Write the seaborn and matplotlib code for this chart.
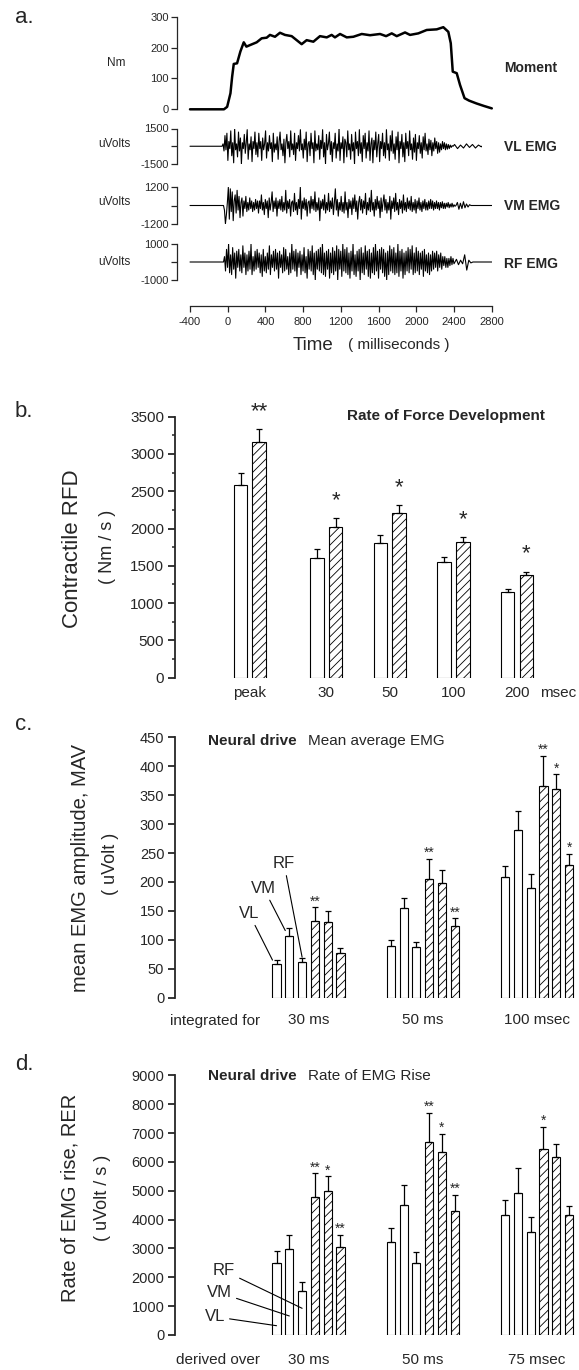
import numpy as np
import pandas as pd
import matplotlib
matplotlib.use("Agg")
import matplotlib.pyplot as plt
import seaborn as sns

# ------------------------------------------------------------------ data
# a. moment trace (ms, Nm)
moment_t = [-400, -40, -6, 29, 47, 64, 99, 134, 170, 198, 236, 307, 360, 413, 448, 501,
            554, 607, 678, 731, 784, 837, 908, 978, 1050, 1102, 1137, 1191, 1262, 1332,
            1421, 1509, 1615, 1679, 1739, 1792, 1880, 1933, 2021, 2110, 2216, 2286, 2339,
            2365, 2386, 2428, 2463, 2511, 2560, 2637, 2715, 2800]
moment_nm = [0, 0, 8, 52, 106, 147, 149, 187, 217, 203, 208, 217, 230, 232, 241, 235,
             248, 241, 237, 224, 211, 224, 219, 237, 233, 241, 233, 244, 233, 235,
             244, 240, 244, 237, 246, 237, 249, 241, 246, 257, 259, 266, 251,
             214, 122, 117, 79, 36, 28, 19, 11, 3]

# a. EMG traces (uV): burst samples, small tail samples, and their time spans (ms)
VL_EMG = [0, 200, -400, 900, -300, 1100, -1200, 400, -200, 1300, -800, 300,
          -1400, 1500, -300, 200, -900, 1200, -400, 700, -1500, 300, -200, 1000,
          -600, 300, 1400, -1100, 200, -300, 800, -1300, 400, -200, 1200, -700,
          300, -900, 1100, -200, 400, -1200, 700, -300, 200, 1300, -1000, 300,
          -400, 900, -200, 300, -1300, 1100, -500, 200, -300, 800, -1100, 400,
          1200, -300, 200, -800, 600, -1400, 300, 1000, -200, 400, -900, 1300,
          -300, 200, -700, 1100, -1200, 300, -200, 900, -400, 1400, -300, 200,
          -1000, 600, -300, 1200, -1300, 200, 400, -800, 1100, -200, 300, -1400,
          1300, -400, 200, -300, 900, -1100, 500, -200, 1400, -900, 300, -1500,
          1000, -300, 200, 1200, -700, 400, -1300, 300, -200, 1100, -1000, 200,
          -400, 1500, -1200, 300, -200, 800, -1400, 600, 300, -900, 1300, -300,
          200, -1100, 1000, -400, 300, -1500, 1200, -200, 400, -800, 1400, -600,
          300, -1300, 900, -200, 1100, -1000, 300, -400, 1300, -1200, 200, 700,
          -1400, 500, -300, 1200, -900, 200, 1000, -1300, 400, -200, 1100, -800,
          300, -1000, 1400, -300, 200, -1200, 900, -400, 1300, -600, 200, -1100,
          800, -300, 1200, -1400, 400, -200, 1000, -900, 300, -1300, 1100, -200,
          400, -800, 1300, -300, 200, -1100, 700, -500, 1000, -1200, 300, -200,
          900, -600, 300, -1000, 800, -300, 1100, -400, 200, -700, 600, -300,
          500, -800, 300, -400, 700, -200, 400, -600, 300, -500, 200, -300,
          400, -200, 300, -300, 200, -250, 150, -200, 100, -100, 50, 0]
VL_TAIL = [150, -200, 100, -150, 200, -100, 150, -150, 100, -50]
VL_SPAN = [-60, 2390, 2405, 2690, 2690]

VM_EMG = [0, -300, -1200, -600, 200, 1200, -900, 1100, -400, 900, -1000, 300,
          700, -500, 1000, -300, 600, -800, 200, 500, -700, 300, -200, 600,
          -400, 200, -300, 500, -200, 300, -400, 200, -300, 400, -200, 300,
          -500, 300, -200, 700, -300, 200, -600, 400, -200, 300, -800, 500,
          -300, 200, 900, -400, 300, -200, 500, -700, 300, -200, 400, -300,
          600, -400, 200, -300, 1000, -500, 300, -200, 400, -700, 200, 300,
          -400, 800, -300, 200, -600, 400, -200, 1200, -900, 300, -200, 500,
          -300, 400, -700, 200, 300, -500, 600, -200, 400, -300, 900, -400,
          200, -300, 500, -1000, 300, -200, 400, -300, 700, -500, 200, -300,
          800, -400, 300, -200, 500, -600, 200, 1100, -300, 400, -700, 200,
          -300, 600, -400, 200, -500, 900, -300, 200, -800, 400, -200, 300,
          -600, 500, -200, 700, -400, 300, -900, 200, 600, -300, 400, -500,
          300, -200, 800, -600, 200, -300, 500, -400, 1000, -300, 200, -700,
          400, -300, 600, -200, 300, -800, 500, -400, 200, 700, -300, 400,
          -500, 200, -300, 600, -900, 300, -200, 500, -400, 800, -300, 200,
          -600, 400, -200, 300, -500, 700, -300, 200, -400, 500, -200, 300,
          -300, 600, -400, 200, -300, 400, -500, 300, -200, 500, -300, 200,
          -400, 300, -200, 400, -300, 200, -300, 300, -200, 400, -200, 300,
          -300, 200, -200, 300, -200, 200, -300, 200, -150, 250, -200, 150,
          -200, 150, -100, 200, -150, 100, -100, 150, -100, 50, -50, 0]
VM_TAIL = [200, -250, 150, -200, 250, -150, 100, -100, 50, 0]
VM_SPAN = [-45, 2420, 2435, 2580, 2800]

RF_EMG = [0, 300, -500, 700, -300, 1000, -600, 400, -700, 800, -400, 500,
          -900, 600, -300, 700, -500, 400, -600, 900, -300, 500, -700, 400,
          -500, 600, -400, 1000, -700, 300, -500, 600, -400, 700, -300, 500,
          -600, 400, -800, 700, -500, 300, -600, 500, -400, 900, -700, 400,
          -300, 600, -500, 700, -400, 500, -900, 600, -300, 400, -600, 800,
          -500, 700, -400, 300, -700, 500, -600, 1000, -400, 600, -500, 700,
          -800, 500, -300, 600, -700, 400, -500, 800, -600, 300, -900, 700,
          -400, 600, -500, 900, -700, 500, -1000, 600, -400, 700, -500, 800,
          -600, 1000, -700, 500, -800, 600, -400, 700, -900, 500, -600, 800,
          -700, 600, -500, 900, -1000, 700, -400, 600, -800, 1000, -500, 700,
          -600, 800, -700, 500, -900, 600, -500, 1000, -700, 400, -800, 600,
          -500, 700, -1000, 800, -600, 500, -700, 900, -400, 600, -800, 700,
          -900, 500, -600, 800, -700, 1000, -500, 600, -900, 700, -400, 800,
          -600, 700, -800, 500, -1000, 600, -700, 900, -500, 700, -600, 800,
          -700, 500, -600, 1000, -800, 600, -500, 700, -900, 500, -700, 600,
          -500, 800, -600, 700, -400, 900, -700, 500, -600, 800, -500, 600,
          -700, 500, -400, 600, -800, 700, -500, 400, -600, 500, -700, 400,
          -500, 600, -400, 500, -300, 600, -500, 400, -300, 500, -400, 300,
          -200, 300, -300, 200, -300, 200, -200, 300, -150, 200, -100, 0]
RF_TAIL = [150, -150, 100, -100, 400, -450, 100, -50, 0]
RF_SPAN = [-45, 2410, 2425, 2600, 2800]

time_ticks = [-400, 0, 400, 800, 1200, 1600, 2000, 2400, 2800]

# b. contractile RFD (Nm/s)
rfd_groups = ["peak", "30", "50", "100", "200"]
rfd_pre = [2580, 1600, 1800, 1550, 1145]
rfd_pre_err = [170, 120, 120, 75, 48]
rfd_post = [3155, 2020, 2205, 1815, 1375]
rfd_post_err = [175, 120, 110, 68, 47]
rfd_stars = ["**", "*", "*", "*", "*"]

# c. MAV (uVolt)
mav_windows = ["30 ms", "50 ms", "100 msec"]
mav_vl_pre = [58, 89, 208]
mav_vm_pre = [107, 155, 289]
mav_rf_pre = [62, 87, 190]
mav_vl_post = [132, 205, 366]
mav_vm_post = [131, 199, 361]
mav_rf_post = [77, 124, 230]
mav_vl_pre_err = [8, 11, 20]
mav_vm_pre_err = [13, 17, 33]
mav_rf_pre_err = [6, 10, 23]
mav_vl_post_err = [24, 35, 52]
mav_vm_post_err = [18, 21, 25]
mav_rf_post_err = [9, 13, 19]
mav_stars_vl_post = ["**", "**", "**"]
mav_stars_vm_post = ["", "", "*"]
mav_stars_rf_post = ["", "**", "*"]

# d. RER (uVolt/s)
rer_windows = ["30 ms", "50 ms", "75 msec"]
rer_vl_pre = [2495, 3234, 4170]
rer_vm_pre = [2970, 4495, 4911]
rer_rf_pre = [1536, 2506, 3560]
rer_vl_post = [4794, 6679, 6447]
rer_vm_post = [4980, 6332, 6159]
rer_rf_post = [3040, 4298, 4159]
rer_vl_pre_err = [415, 485, 520]
rer_vm_pre_err = [485, 715, 890]
rer_rf_pre_err = [290, 370, 540]
rer_vl_post_err = [810, 1005, 765]
rer_vm_post_err = [520, 625, 460]
rer_rf_post_err = [437, 545, 312]
rer_stars_vl_post = ["**", "**", "*"]
rer_stars_vm_post = ["*", "*", ""]
rer_stars_rf_post = ["**", "**", ""]

muscles = ["VL", "VM", "RF"]

# ------------------------------------------------------------------ style
sns.set_theme(style="ticks")
plt.rcParams["font.family"] = ["Liberation Sans", "DejaVu Sans"]
plt.rcParams["hatch.linewidth"] = 0.6
plt.rcParams["hatch.color"] = "black"

W, H = 579, 1370
fig = plt.figure(figsize=(W / 100, H / 100), dpi=100)


def rect(l, t, r, b):
    return [l / W, 1 - b / H, (r - l) / W, (b - t) / H]


def fx(px):
    return px / W


def fy(py):
    return 1 - py / H


# ------------------------------------------------------------------ panel a
PX_MS = (491.8 - 190.0) / 3200.0
A_LEFT = 177.0
t_left = -400 - (190.0 - A_LEFT) / PX_MS


def trace_axes(top, bottom):
    ax = fig.add_axes(rect(A_LEFT, top, 491.8, bottom))
    ax.set_xlim(t_left, 2800)
    for s in ["top", "right", "bottom"]:
        ax.spines[s].set_visible(False)
    ax.spines["left"].set_linewidth(0.9)
    ax.set_xticks([])
    ax.tick_params(axis="y", direction="out", length=4, width=0.9, labelsize=8, pad=2)
    ax.patch.set_alpha(0)
    return ax


ax_m = trace_axes(16.7, 109.3)
sns.lineplot(x=moment_t, y=moment_nm, color="black", linewidth=1.8, estimator=None,
             sort=False, ax=ax_m)
ax_m.set_ylim(0, 300)
ax_m.set_yticks([0, 100, 200, 300])
ax_m.set_xlim(t_left, 2800)
ax_m.set_xlabel("")
ax_m.set_ylabel("")
for ln in ax_m.lines:
    ln.set_clip_on(False)


def emg_trace(ax, vals, tail, span, lim):
    t = np.concatenate([[-400.0], np.linspace(span[0], span[1], len(vals)),
                        np.linspace(span[2], span[3], len(tail)), [span[4]]])
    v = np.concatenate([[0.0], vals, tail, [0.0]])
    sns.lineplot(x=t, y=v, color="black", linewidth=0.8, estimator=None, sort=False, ax=ax)
    ax.set_ylim(-lim, lim)
    ax.set_yticks([-lim, 0, lim])
    ax.set_yticklabels([str(-lim), "", str(lim)])
    ax.set_xlim(t_left, 2800)
    ax.set_xlabel("")
    ax.set_ylabel("")


ax_vl = trace_axes(128.5, 164.0)
emg_trace(ax_vl, VL_EMG, VL_TAIL, VL_SPAN, 1500)
ax_vm = trace_axes(187.3, 223.7)
emg_trace(ax_vm, VM_EMG, VM_TAIL, VM_SPAN, 1200)
ax_rf = trace_axes(244.0, 280.0)
emg_trace(ax_rf, RF_EMG, RF_TAIL, RF_SPAN, 1000)

ax_t = fig.add_axes(rect(190.0, 290, 491.8, 306))
ax_t.set_xlim(-400, 2800)
ax_t.set_xticks(time_ticks)
ax_t.set_xticklabels([str(v) for v in time_ticks])
ax_t.set_yticks([])
for s in ["top", "right", "left"]:
    ax_t.spines[s].set_visible(False)
ax_t.spines["bottom"].set_linewidth(0.9)
ax_t.tick_params(axis="x", direction="out", length=4, width=0.9, labelsize=8, pad=4)
ax_t.patch.set_alpha(0)

fig.text(fx(14.8), fy(17.5), "a.", fontsize=16, ha="left", va="center")
fig.text(fx(116), fy(63.3), "Nm", fontsize=8.5, ha="center", va="center")
for yc in [144.3, 202.3, 261.7]:
    fig.text(fx(114), fy(yc), "uVolts", fontsize=8.5, ha="center", va="center")
for yc, lab in [(68.3, "Moment"), (146.7, "VL EMG"), (205.7, "VM EMG"), (264, "RF EMG")]:
    fig.text(fx(504), fy(yc), lab, fontsize=10, fontweight="bold", ha="left", va="center")
fig.text(fx(293), fy(345), "Time", fontsize=13.5, ha="left", va="center")
fig.text(fx(348), fy(345), "( milliseconds )", fontsize=11, ha="left", va="center")


# ------------------------------------------------------------------ helpers
def style_bar_axes(ax, labelsize):
    for s in ["top", "right", "bottom"]:
        ax.spines[s].set_visible(False)
    ax.spines["left"].set_linewidth(1.3)
    ax.tick_params(axis="y", which="major", direction="out", length=5, width=1.3,
                   labelsize=labelsize, pad=3)
    ax.tick_params(axis="y", which="minor", direction="out", length=2.5, width=1.1)
    ax.set_xlabel("")
    ax.set_ylabel("")
    ax.patch.set_alpha(0)


def hatch_bars(container):
    for p in container:
        p.set_hatch("////")


def add_errorbars(ax, container, vals, errs):
    xs = [p.get_x() + p.get_width() / 2 for p in container]
    ax.errorbar(xs, vals, yerr=[np.zeros(len(errs)), errs], fmt="none", ecolor="black",
                elinewidth=0.9, capsize=2.3, capthick=0.9, zorder=5, clip_on=False)
    return xs


def add_stars(ax, xs, vals, errs, stars, size, offset):
    for x, v, e, s in zip(xs, vals, errs, stars):
        if s:
            ax.annotate(s, xy=(x, v + e), xytext=(0, offset), textcoords="offset pixels",
                        ha="center", va="baseline", fontsize=size, annotation_clip=False)


# ------------------------------------------------------------------ panel b
axb = fig.add_axes(rect(175.4, 416.7, 560, 677.7))
b_pos = [0.0, 1.2, 2.2, 3.2, 4.2]  # layout: horizontal placement of groups
df_b = pd.DataFrame({
    "pos": b_pos + b_pos,
    "cond": ["pre"] * len(rfd_pre) + ["post"] * len(rfd_post),
    "rfd": rfd_pre + rfd_post,
})
sns.barplot(data=df_b, x="pos", y="rfd", hue="cond", hue_order=["pre", "post"],
            native_scale=True, width=0.5865, gap=0.27, palette=["white", "white"],
            saturation=1, edgecolor="black", linewidth=0.8, errorbar=None, legend=False,
            ax=axb)
hatch_bars(axb.containers[1])
add_errorbars(axb, axb.containers[0], rfd_pre, rfd_pre_err)
xs_post = add_errorbars(axb, axb.containers[1], rfd_post, rfd_post_err)
add_stars(axb, xs_post, rfd_post, rfd_post_err, rfd_stars, 16, 12)
axb.set_ylim(0, 3500)
axb.set_xlim(-1.171, 4.876)
axb.set_yticks(np.arange(0, 3501, 500))
axb.set_yticks(np.arange(0, 3501, 250), minor=True)
axb.set_xticks(b_pos)
axb.set_xticklabels(rfd_groups)
style_bar_axes(axb, 11)
axb.tick_params(axis="x", length=0, labelsize=11, pad=6)
fig.text(fx(540), fy(693.3), "msec", fontsize=11, ha="left", va="center")
fig.text(fx(347), fy(416), "Rate of Force Development", fontsize=11, fontweight="bold",
         ha="left", va="center")
fig.text(fx(14.8), fy(411.7), "b.", fontsize=16, ha="left", va="center")
fig.text(fx(73), fy(548.3), "Contractile RFD", fontsize=16, rotation=90,
         ha="center", va="center")
fig.text(fx(107), fy(547), "( Nm / s )", fontsize=13, rotation=90, ha="center", va="center")


# ------------------------------------------------------------------ panels c & d
def six_bar_panel(ax, windows, pre, pre_err, post, post_err, stars, ylim, yticks, colname):
    levels = [f"{m} pre" for m in muscles] + [f"{m} post" for m in muscles]
    series = pre + post
    rows = [(w, lvl, v) for lvl, vals in zip(levels, series) for w, v in zip(windows, vals)]
    df = pd.DataFrame(rows, columns=["window", "series", colname])
    sns.barplot(data=df, x="window", y=colname, hue="series", order=windows,
                hue_order=levels, width=0.671, gap=0.366, palette=["white"] * 6,
                saturation=1, edgecolor="black", linewidth=0.8, errorbar=None,
                legend=False, ax=ax)
    for k in range(3, 6):
        hatch_bars(ax.containers[k])
    errs = pre_err + post_err
    for k in range(6):
        xs = add_errorbars(ax, ax.containers[k], series[k], errs[k])
        if k >= 3:
            add_stars(ax, xs, series[k], errs[k], stars[k - 3], 10, 2)
    ax.set_ylim(*ylim)
    ax.set_yticks(yticks)
    ax.set_xlim(-1.1645, 2.3666)
    style_bar_axes(ax, 10.5)
    return ax


def label_lines(ax, specs):
    for name, k, use_left, yval, dx, dy in specs:
        p = ax.containers[k][0]
        x = p.get_x() if use_left else p.get_x() + p.get_width() / 2
        ax.annotate(name, xy=(x, yval), xytext=(dx, dy), textcoords="offset pixels",
                    ha="center", va="center", fontsize=12, annotation_clip=False,
                    arrowprops=dict(arrowstyle="-", lw=0.8, color="black",
                                    shrinkA=1, shrinkB=0))


axc = fig.add_axes(rect(175.4, 737.3, 579, 997.7))
six_bar_panel(axc, mav_windows,
              [mav_vl_pre, mav_vm_pre, mav_rf_pre],
              [mav_vl_pre_err, mav_vm_pre_err, mav_rf_pre_err],
              [mav_vl_post, mav_vm_post, mav_rf_post],
              [mav_vl_post_err, mav_vm_post_err, mav_rf_post_err],
              [mav_stars_vl_post, mav_stars_vm_post, mav_stars_rf_post],
              (0, 450), np.arange(0, 451, 50), "mav")
axc.tick_params(axis="x", length=0, labelsize=11, pad=11)
label_lines(axc, [("VL", 0, True, 65, -23.5, 46.7),
                  ("VM", 1, True, 116, -21.7, 42.4),
                  ("RF", 2, False, 70, -18.1, 93.7)])
fig.text(fx(214.8), fy(1021), "integrated for", fontsize=11, ha="center", va="center")
fig.text(fx(207.5), fy(740.7), "Neural drive", fontsize=11, fontweight="bold",
         ha="left", va="center")
fig.text(fx(308), fy(740.7), "Mean average EMG", fontsize=11, ha="left", va="center")
fig.text(fx(14.8), fy(725), "c.", fontsize=16, ha="left", va="center")
fig.text(fx(81), fy(868), "mean EMG amplitude, MAV", fontsize=14.5, rotation=90,
         ha="center", va="center")
fig.text(fx(110.8), fy(864), "( uVolt )", fontsize=13, rotation=90, ha="center", va="center")

axd = fig.add_axes(rect(175.4, 1075.3, 579, 1335))
six_bar_panel(axd, rer_windows,
              [rer_vl_pre, rer_vm_pre, rer_rf_pre],
              [rer_vl_pre_err, rer_vm_pre_err, rer_rf_pre_err],
              [rer_vl_post, rer_vm_post, rer_rf_post],
              [rer_vl_post_err, rer_vm_post_err, rer_rf_post_err],
              [rer_stars_vl_post, rer_stars_vm_post, rer_stars_rf_post],
              (0, 9000), np.arange(0, 9001, 1000), "rer")
axd.tick_params(axis="x", length=0, labelsize=11, pad=13)
label_lines(axd, [("RF", 2, False, 925, -78.1, 37.6),
                  ("VM", 1, False, 659, -69.9, 23.3),
                  ("VL", 0, False, 322, -61.8, 9.0)])
fig.text(fx(218), fy(1360), "derived over", fontsize=11, ha="center", va="center")
fig.text(fx(207.5), fy(1076), "Neural drive", fontsize=11, fontweight="bold",
         ha="left", va="center")
fig.text(fx(308), fy(1076), "Rate of EMG Rise", fontsize=11, ha="left", va="center")
fig.text(fx(14.8), fy(1064), "d.", fontsize=16, ha="left", va="center")
fig.text(fx(70), fy(1198), "Rate of EMG rise, RER", fontsize=14.5, rotation=90,
         ha="center", va="center")
fig.text(fx(102.7), fy(1198), "( uVolt / s )", fontsize=13, rotation=90,
         ha="center", va="center")

fig.savefig("out.png", dpi=100)
